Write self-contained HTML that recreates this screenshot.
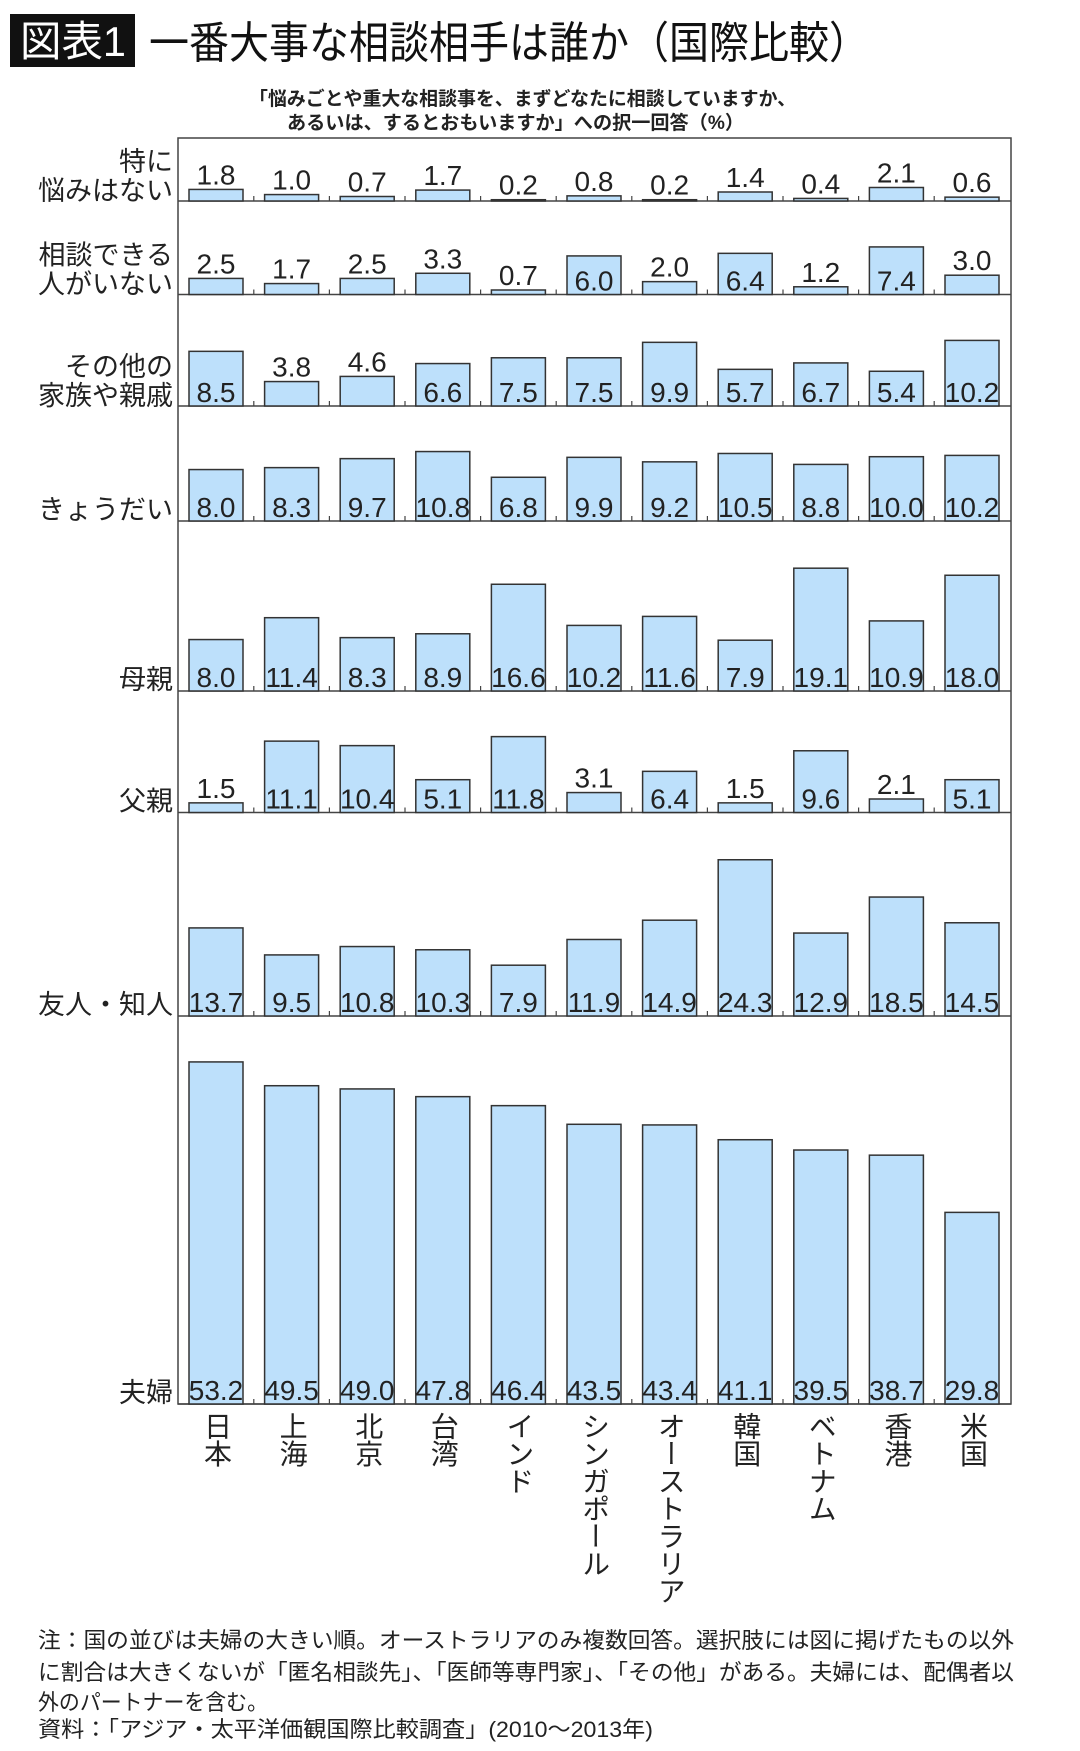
<!DOCTYPE html>
<html><head><meta charset="utf-8">
<style>
body{margin:0;background:#fff;width:1080px;height:1751px;overflow:hidden;position:relative}
svg{position:absolute;left:0;top:0}
.vlab{position:absolute;writing-mode:vertical-rl;font-family:"Liberation Sans","Noto Sans CJK JP",sans-serif;font-size:28px;line-height:28px;color:#222;letter-spacing:-0.5px;transform:translateX(-50%)}
</style></head>
<body>
<svg id="chart" width="1080" height="1751" xmlns="http://www.w3.org/2000/svg" font-family="'Liberation Sans','Noto Sans CJK JP',sans-serif">
<rect x="10" y="14" width="125" height="53" fill="#111"/>
<text x="20" y="56" fill="#fff" font-size="42" textLength="106" lengthAdjust="spacingAndGlyphs">図表1</text>
<text x="149" y="58" fill="#111" font-size="44" textLength="720" lengthAdjust="spacingAndGlyphs">一番大事な相談相手は誰か（国際比較）</text>
<text x="249" y="105" fill="#222" font-size="19" font-weight="bold" textLength="547" lengthAdjust="spacingAndGlyphs">「悩みごとや重大な相談事を、まずどなたに相談していますか、</text>
<text x="287" y="129" fill="#222" font-size="19" font-weight="bold" textLength="457" lengthAdjust="spacingAndGlyphs">あるいは、するとおもいますか」への択一回答（%）</text>
<g id="plot"></g>
<text x="38" y="1648" fill="#222" font-size="22" textLength="976" lengthAdjust="spacingAndGlyphs">注：国の並びは夫婦の大きい順。オーストラリアのみ複数回答。選択肢には図に掲げたもの以外</text>
<text x="38" y="1680" fill="#222" font-size="22" textLength="976" lengthAdjust="spacingAndGlyphs">に割合は大きくないが「匿名相談先」、「医師等専門家」、「その他」がある。夫婦には、配偶者以</text>
<text x="38" y="1710" fill="#222" font-size="22" textLength="230" lengthAdjust="spacingAndGlyphs">外のパートナーを含む。</text>
<text x="38" y="1737" fill="#222" font-size="22" textLength="615" lengthAdjust="spacingAndGlyphs">資料：「アジア・太平洋価観国際比較調査」(2010～2013年)</text>
</svg>
<script>
const countries=["日本","上海","北京","台湾","インド","シンガポール","オーストラリア","韓国","ベトナム","香港","米国"];
const rowLabels=[["特に","悩みはない"],["相談できる","人がいない"],["その他の","家族や親戚"],["きょうだい"],["母親"],["父親"],["友人・知人"],["夫婦"]];
const rowNoWorries=[1.8,1.0,0.7,1.7,0.2,0.8,0.2,1.4,0.4,2.1,0.6];
const rowNoOne=[2.5,1.7,2.5,3.3,0.7,6.0,2.0,6.4,1.2,7.4,3.0];
const rowRelatives=[8.5,3.8,4.6,6.6,7.5,7.5,9.9,5.7,6.7,5.4,10.2];
const rowSiblings=[8.0,8.3,9.7,10.8,6.8,9.9,9.2,10.5,8.8,10.0,10.2];
const rowMother=[8.0,11.4,8.3,8.9,16.6,10.2,11.6,7.9,19.1,10.9,18.0];
const rowFather=[1.5,11.1,10.4,5.1,11.8,3.1,6.4,1.5,9.6,2.1,5.1];
const rowFriends=[13.7,9.5,10.8,10.3,7.9,11.9,14.9,24.3,12.9,18.5,14.5];
const rowSpouse=[53.2,49.5,49.0,47.8,46.4,43.5,43.4,41.1,39.5,38.7,29.8];
const rows=[rowNoWorries,rowNoOne,rowRelatives,rowSiblings,rowMother,rowFather,rowFriends,rowSpouse];
const rowNames=["no-worries","no-one-to-consult","other-relatives","siblings","mother","father","friends","spouse"];

const NS="http://www.w3.org/2000/svg";
const g=document.getElementById('plot');
const L=178,R=1011,TOP=138;
const baselines=[201,294.5,406,521,691,812.5,1016,1404];
const PX=6.43;
function xOf(i){return 189+i*75.6;}
function hOf(v){return v*PX;}
const BW=54;
function el(tag,attrs,parent){const e=document.createElementNS(NS,tag);for(const k in attrs)e.setAttribute(k,attrs[k]);(parent||g).appendChild(e);return e;}

// frame
const frame=el('rect',{x:L,y:TOP,width:R-L,height:1404-TOP,fill:'none',stroke:'#444','stroke-width':1.5});



rows.forEach((vals,r)=>{
  const base=baselines[r];
  const grp=el('g',{});
  
  
  const ln=el('line',{x1:L,x2:R,y1:base,y2:base,stroke:'#444','stroke-width':1.5},grp);
  
  
  // label
  const lab=rowLabels[r];
  lab.forEach((t,k)=>{
    const y=lab.length===2?(k===0?base-30:base-1):base-2;
    const tx=el('text',{x:173,y:y,'text-anchor':'end','font-size':27,fill:'#222'},grp);
    tx.textContent=t;
    
    
  });
  vals.forEach((v,i)=>{
    const x=xOf(i),h=hOf(v);
    const b=el('rect',{x:x,y:base-h,width:BW,height:h,fill:'#bde0fb',stroke:'#333','stroke-width':1.5},grp);
    
    
    if(i>0){
      const tk=el('line',{x1:x-10.8,x2:x-10.8,y1:base,y2:base-5,stroke:'#444','stroke-width':1.2},grp);
      
      
    }
    const inside=v>=5;
    const ty=inside?base-4:base-h-5;
    const vt=el('text',{x:x+BW/2,y:ty,'text-anchor':'middle','font-size':28,fill:'#222','font-family':"'Liberation Sans Narrow','Liberation Sans',sans-serif"},grp);
    vt.textContent=v.toFixed(1);
    
    
  });
});

countries.forEach((c,i)=>{
  const d=document.createElement('div');
  d.className='vlab';
  d.style.left=(xOf(i)+BW/2)+'px';
  d.style.top='1412px';
  d.textContent=c;
  
  
  document.body.appendChild(d);
});
</script>
</body></html>
